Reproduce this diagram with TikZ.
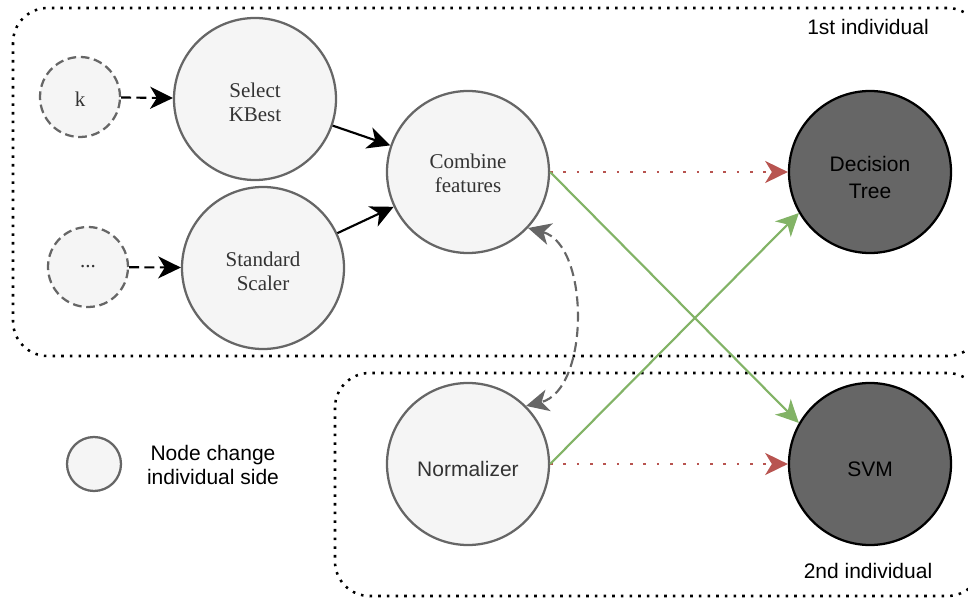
\documentclass[tikz,border=0pt]{standalone}
\usepackage{fontspec}
\setmainfont{Liberation Serif}
\setsansfont{Liberation Sans}
\usetikzlibrary{arrows.meta}
\definecolor{lightfill}{HTML}{F5F5F5}
\definecolor{strokegray}{HTML}{666666}
\definecolor{darkfill}{HTML}{666666}
\definecolor{txtgray}{HTML}{333333}
\definecolor{greenline}{HTML}{82B366}
\definecolor{redline}{HTML}{B85450}
\begin{document}
\begin{tikzpicture}[x=0.75pt,y=-0.75pt,
  every node/.style={font=\fontsize{15.75}{18}\selectfont, align=center},
  serifnode/.style={font=\fontsize{15.75}{18}\selectfont\rmfamily},
  sansnode/.style={font=\fontsize{15.75}{18}\selectfont\sffamily},
  lightcircle/.style={circle, draw=strokegray, fill=lightfill, line width=1.7pt, minimum size=121.5pt, inner sep=0pt, text=txtgray},
  darkcircle/.style={circle, draw=black, fill=darkfill, line width=1.7pt, minimum size=121.5pt, inner sep=0pt, text=black, font=\fontsize{15.75}{20}\selectfont\sffamily, text height=19pt},
  dashcircle/.style={circle, draw=strokegray, fill=lightfill, line width=1.7pt, dash pattern=on 6.5pt off 3.5pt, minimum size=60pt, inner sep=0pt, text=txtgray, serifnode},
  legendcircle/.style={circle, draw=strokegray, fill=lightfill, line width=1.7pt, minimum size=40.5pt, inner sep=0pt},
  boxstyle/.style={draw=black, line width=1.9pt, dash pattern=on 1.9pt off 4.6pt, rounded corners=26pt},
  tip/.style={-{Stealth[length=17pt,width=16.5pt,inset=5pt]}},
  blackarrow/.style={tip, draw=black, line width=1.6pt},
  dasharrow/.style={tip, draw=black, line width=1.6pt, dash pattern=on 7.5pt off 4pt},
  redarrow/.style={tip, draw=redline, line width=1.9pt, dash pattern=on 1.9pt off 8.1pt},
  greenarrow/.style={tip, draw=greenline, line width=1.6pt},
  grayarrow/.style={{Stealth[length=17pt,width=16.5pt,inset=5pt]}-{Stealth[length=17pt,width=16.5pt,inset=5pt]}, draw=strokegray, line width=1.6pt, dash pattern=on 7.5pt off 4pt}
]
\useasboundingbox (0,0) rectangle (968,598);
\clip (0,0) rectangle (968,598);

% group boxes
\draw[boxstyle] (13,8) rectangle (982,356);
\draw[boxstyle] (335,373) rectangle (982,596);

% nodes
\node[dashcircle, text height=14pt] (k) at (80,97) {k};
\node[dashcircle] (dots) at (88,267) {...};
\node[lightcircle, serifnode, text height=33.3pt] (sel) at (255,99) {Select\\KBest};
\node[lightcircle, serifnode, text height=33.3pt] (std) at (263,268) {Standard\\Scaler};
\node[lightcircle, serifnode, text height=30.3pt] (cf) at (468,172) {Combine\\features};
\node[lightcircle, sansnode, text height=19pt] (norm) at (468,464) {Normalizer};
\node[darkcircle, text height=40pt] (dt) at (870,172) {Decision\\Tree};
\node[darkcircle] (svm) at (870,464) {SVM};
\node[legendcircle] (leg) at (94,464) {};
\node[sansnode, text=black] (legtxt) at (213,465) {Node change\\individual side};
\node[sansnode, text=black] (lbl1) at (868,27) {1st individual};
\node[sansnode, text=black] (lbl2) at (868,571) {2nd individual};

% connectors
\draw[dasharrow] (k) -- (sel);
\draw[dasharrow] (dots) -- (std);
\draw[blackarrow] (sel) -- (cf);
\draw[blackarrow] (std) -- (cf);
\draw[redarrow] (cf) -- (dt);
\draw[redarrow] (norm) -- (svm);
\draw[greenarrow] (cf.east) -- (svm.150);
\draw[greenarrow] (norm.east) -- (dt.210);
\draw[grayarrow] (cf.-43) .. controls (590,245) and (590,390) .. (norm.45);
\end{tikzpicture}
\end{document}
